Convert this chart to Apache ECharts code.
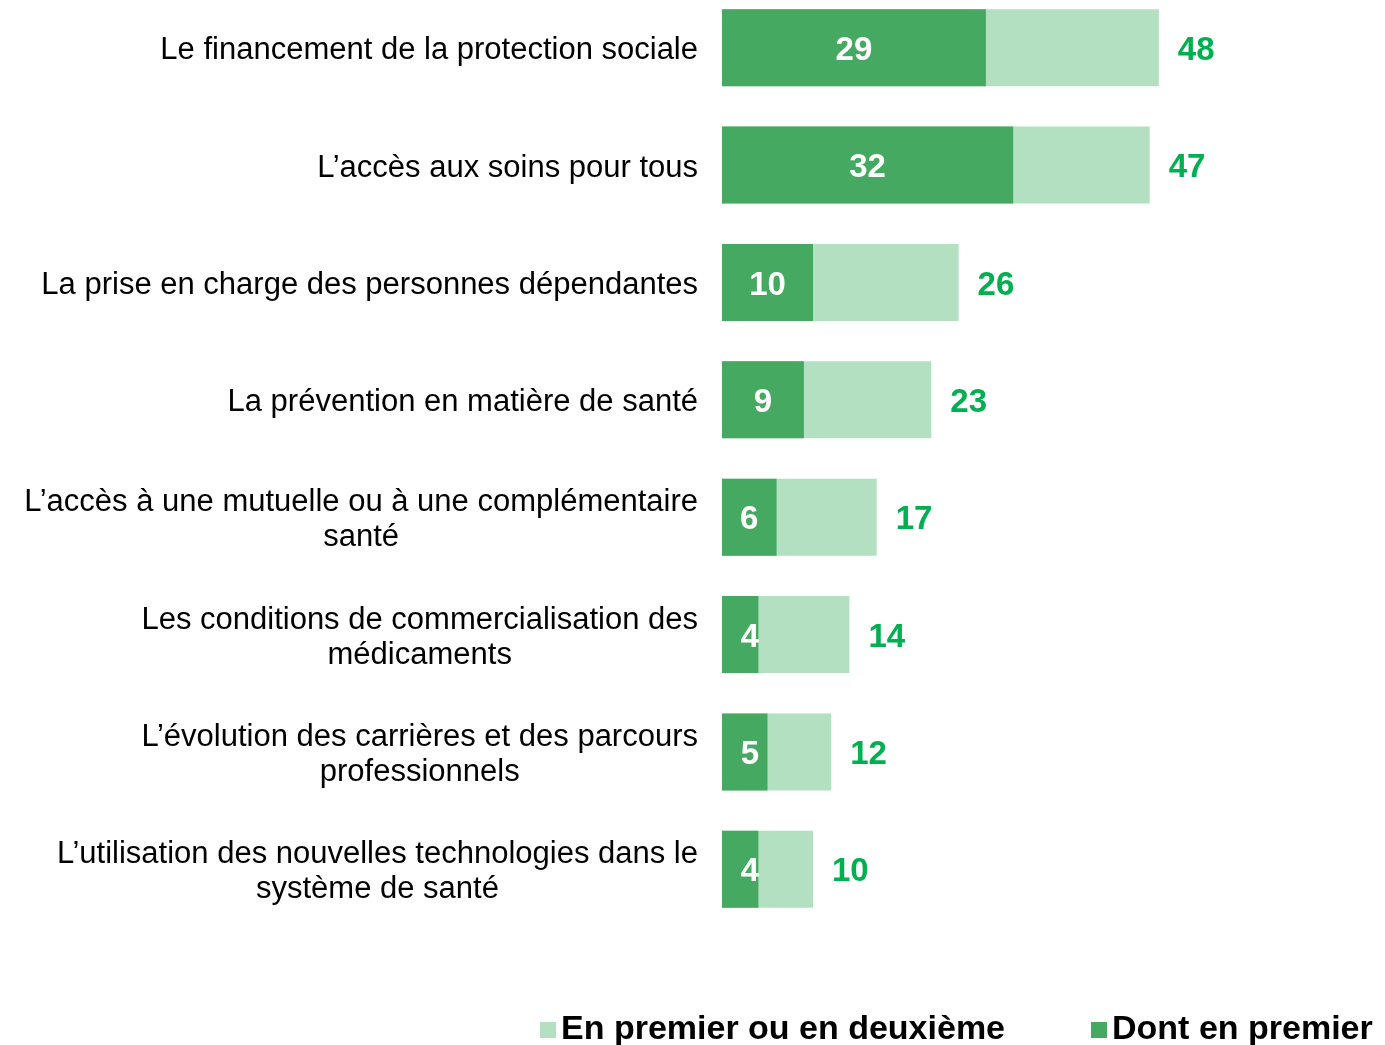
<!DOCTYPE html>
<html>
<head>
<meta charset="utf-8">
<script src="https://cdn.jsdelivr.net/npm/echarts@6/dist/echarts.min.js"></script>
<style>
  html, body { margin: 0; padding: 0; background: #fff; overflow: hidden; }
  #main { position: absolute; left: 0; top: -11px; width: 1385px; height: 1056px; }
</style>
</head>
<body>
<div id="main"></div>
<script>
// thèmes cités
const categories = [
  'Le financement de la protection sociale',
  'L\u2019accès aux soins pour tous',
  'La prise en charge des personnes dépendantes',
  'La prévention en matière de santé',
  'L\u2019accès à une mutuelle ou à une complémentaire\nsanté',
  'Les conditions de commercialisation des\nmédicaments',
  'L\u2019évolution des carrières et des parcours\nprofessionnels',
  'L\u2019utilisation des nouvelles technologies dans le\nsystème de santé'
]
// en premier ou en deuxième (total)
const totalValues = [48, 47, 26, 23, 17, 14, 12, 10]
// dont en premier
const firstValues = [29, 32, 10, 9, 6, 4, 5, 4]

const darkGreen = '#46a962'
const lightGreen = '#b2e0c1'
const labelGreen = '#00b050'
const font = '"Liberation Sans", Arial, sans-serif'

const chart = echarts.init(document.getElementById('main'))

// petites barres : le libellé est décalé pour rester lisible
const firstData = firstValues.map((v) => {
  if (v < 6) {
    return {
      value: v,
      label: { position: [28, '50%'], align: 'center', verticalAlign: 'middle' }
    }
  }
  return v
})

const option = {
  animation: false,
  grid: {
    left: 722,
    right: 117,
    top: 0,
    bottom: 117,
    containLabel: false
  },
  legend: {
    top: 1019,
    left: 535,
    itemWidth: 16,
    itemHeight: 16,
    itemGap: 86,
    icon: 'rect',
    textStyle: {
      fontFamily: font,
      fontSize: 34,
      fontWeight: 'bold',
      color: '#000'
    },
    data: ['En premier ou en deuxième', 'Dont en premier']
  },
  xAxis: {
    type: 'value',
    min: 0,
    max: 60,
    show: false
  },
  yAxis: {
    type: 'category',
    inverse: true,
    data: categories,
    axisLine: { show: false },
    axisTick: { show: false },
    axisLabel: {
      margin: 24,
      fontFamily: font,
      fontSize: 31,
      lineHeight: 35,
      color: '#000',
      align: 'right',
      padding: [6, 0, 0, 0],
      // lignes centrées entre elles, bloc aligné à droite
      formatter: (val) => val.split('\n').map((l) => '{c|' + l + '}').join('\n'),
      rich: {
        c: {
          align: 'center',
          fontFamily: font,
          fontSize: 31,
          lineHeight: 35,
          color: '#000'
        }
      }
    }
  },
  series: [
    {
      name: 'En premier ou en deuxième',
      type: 'bar',
      data: totalValues,
      barWidth: 77,
      itemStyle: { color: lightGreen },
      label: {
        show: true,
        position: 'right',
        distance: 19,
        offset: [0, 3],
        fontFamily: font,
        fontSize: 33,
        fontWeight: 'bold',
        color: labelGreen
      }
    },
    {
      name: 'Dont en premier',
      type: 'bar',
      data: firstData,
      barWidth: 77,
      barGap: '-100%',
      itemStyle: { color: darkGreen },
      label: {
        show: true,
        position: 'inside',
        offset: [0, 3],
        fontFamily: font,
        fontSize: 33,
        fontWeight: 'bold',
        color: '#fff'
      }
    }
  ]
}

chart.setOption(option)
</script>
</body>
</html>
